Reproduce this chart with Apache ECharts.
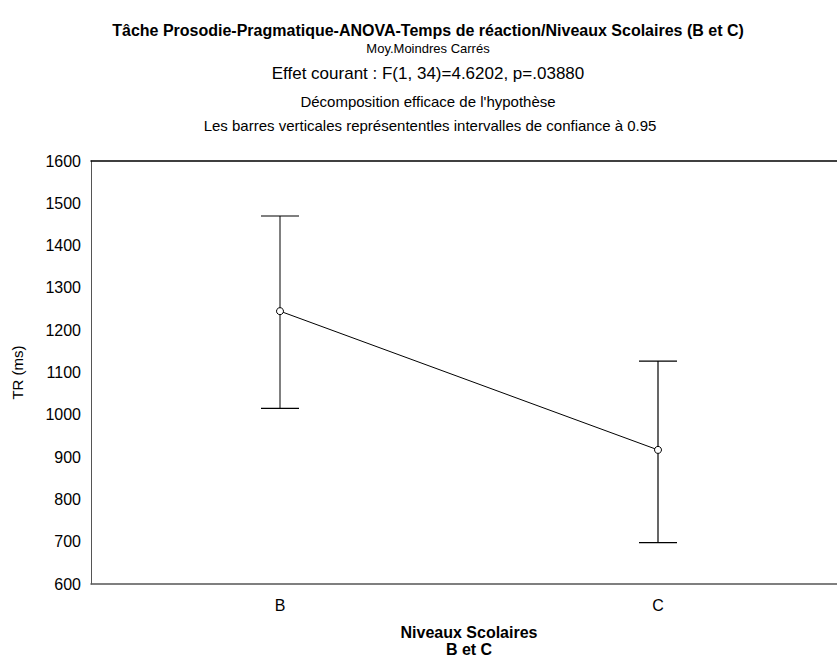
<!DOCTYPE html>
<html><head><meta charset="utf-8">
<script src="https://cdn.jsdelivr.net/npm/echarts@6/dist/echarts.min.js"></script>
<style>html,body{margin:0;padding:0;background:#fff;overflow:hidden}#c{width:847px;height:659px}</style>
</head><body><div id="c"></div>
<script>
const categories = ['B', 'C'];
const means = [1245, 917];
const lower = [1015, 698];
const upper = [1470, 1127];
const yTicks = [600, 700, 800, 900, 1000, 1100, 1200, 1300, 1400, 1500, 1600];

const titleLines = [
  'Tâche Prosodie-Pragmatique-ANOVA-Temps de réaction/Niveaux Scolaires (B et C)',
  'Moy.Moindres Carrés',
  'Effet courant : F(1, 34)=4.6202, p=.03880',
  'Décomposition efficace de l\'hypothèse',
  'Les barres verticales représententles intervalles de confiance à 0.95'
];
const FONT = '"Liberation Sans", Arial, sans-serif';
const titleStyle = [
  {x: 428, y: 30, size: 16, weight: 'bold'},
  {x: 428, y: 48, size: 13, weight: 'normal'},
  {x: 428, y: 73, size: 17, weight: 'normal'},
  {x: 428, y: 101, size: 15, weight: 'normal'},
  {x: 430, y: 125, size: 15, weight: 'normal'}
];
const barColors = ['#808080', '#000'];
const barWidths = [2, 1.2];

const chart = echarts.init(document.getElementById('c'), null, {renderer: 'svg'});
const errData = categories.map((c, i) => [i, lower[i], upper[i]]);

chart.setOption({
  animation: false,
  graphic: titleLines.map((t, i) => ({
    type: 'text', x: titleStyle[i].x, y: titleStyle[i].y,
    style: {text: t, textAlign: 'center', textVerticalAlign: 'middle',
      font: titleStyle[i].weight + ' ' + titleStyle[i].size + 'px ' + FONT, fill: '#000'}
  })),
  grid: {left: 91, right: 0, top: 161, bottom: 75, show: false,
    containLabel: false, outerBoundsMode: 'none'},
  xAxis: [{
    type: 'category', data: categories, boundaryGap: true,
    axisLine: {lineStyle: {color: '#555', width: 1.5}},
    axisTick: {inside: true, alignWithLabel: true, length: 4, lineStyle: {color: '#555'}},
    axisLabel: {fontSize: 16, color: '#000', fontFamily: FONT, margin: 13},
    name: 'Niveaux Scolaires\nB et C', nameLocation: 'middle', nameGap: 40,
    nameTextStyle: {fontSize: 16, fontWeight: 'bold', color: '#000', fontFamily: FONT, lineHeight: 17}
  }, {
    type: 'category', data: categories, position: 'top', boundaryGap: true,
    axisLine: {lineStyle: {color: '#000', width: 1.5}},
    axisTick: {inside: true, alignWithLabel: true, length: 4, lineStyle: {color: '#555'}},
    axisLabel: {show: false}
  }],
  yAxis: {
    type: 'value', min: 600, max: 1600, interval: 100,
    axisLine: {show: true, lineStyle: {color: '#555'}},
    axisTick: {show: false},
    splitLine: {show: false},
    axisLabel: {fontSize: 16, color: '#000', fontFamily: FONT, margin: 10,
      customValues: yTicks, formatter: v => String(v)},
    name: 'TR (ms)', nameLocation: 'middle', nameGap: 66, nameRotate: 90,
    nameTextStyle: {fontSize: 15, color: '#000', fontFamily: FONT}
  },
  series: [{
    type: 'custom',
    data: errData,
    z: 2,
    renderItem: function (params, api) {
      const x = api.value(0);
      const lo = api.coord([x, api.value(1)]);
      const hi = api.coord([x, api.value(2)]);
      const hw = 19;
      const col = barColors[params.dataIndex];
      return {type: 'group', children: [
        {type: 'line', shape: {x1: lo[0], y1: lo[1], x2: hi[0], y2: hi[1]}, style: {stroke: col, lineWidth: barWidths[params.dataIndex]}},
        {type: 'line', shape: {x1: hi[0] - hw, y1: hi[1], x2: hi[0] + hw, y2: hi[1]}, style: {stroke: '#000', lineWidth: 1.2}},
        {type: 'line', shape: {x1: lo[0] - hw, y1: lo[1], x2: lo[0] + hw, y2: lo[1]}, style: {stroke: '#000', lineWidth: 1.2}}
      ]};
    }
  }, {
    type: 'line', data: means, z: 3,
    symbol: 'circle', symbolSize: 7,
    lineStyle: {color: '#000', width: 1},
    itemStyle: {color: '#fff', borderColor: '#000', borderWidth: 1}
  }]
});
</script></body></html>
